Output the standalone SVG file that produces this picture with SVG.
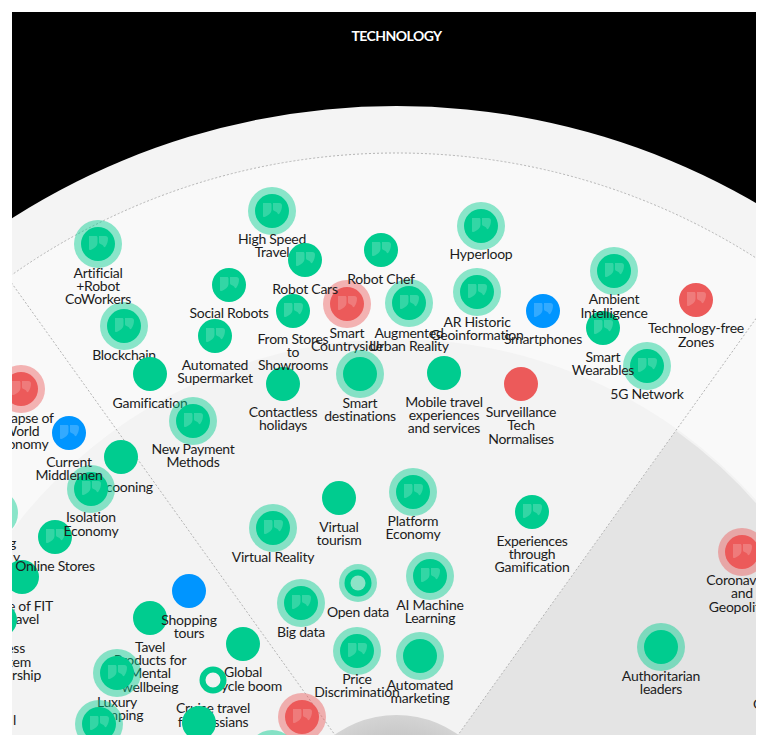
<svg xmlns="http://www.w3.org/2000/svg" xmlns:xlink="http://www.w3.org/1999/xlink" width="770" height="735" viewBox="0 0 770 735">
<style>
text{font-family:Lato,"Liberation Sans",sans-serif;font-size:14px;fill:#1c1c1c;text-anchor:middle;letter-spacing:-.25px}
.t{font-weight:700;fill:#fff;font-size:14px;letter-spacing:-.55px}
.e{text-anchor:end}
.s{text-anchor:start}
.g{fill:#00cc8f}.gh{fill:#00cc8f;opacity:.45}
.r{fill:#ec5a5a}.rh{fill:#ec5a5a;opacity:.45}
.b{fill:#0095ff}
.q{fill:#fff;opacity:.2}
.d{fill:none;stroke:#b4b4b4;stroke-width:1;stroke-dasharray:2 2}
</style>
<defs>
<g id="q"><path class="q" d="M-9-8h7c1 0 1.500.7 1.500 1.700v5c0 3.500-3.500 6-7 7.300-1 .3-1.500-.2-1.500-1.500zM1-8h6.500c1.500 0 2.500 1 2.500 2.500 0 3-1 6-2.500 8-.7 1-1.500 1-2-.3-.5-1-1.500-1.700-3-2.200-1-.4-1.500-1-1.500-2v-6z"/></g>
<radialGradient id="core" gradientUnits="userSpaceOnUse" cx="396.500" cy="821" r="106"><stop offset="0" stop-color="#9a9a9a"/><stop offset="1" stop-color="#d4d4d4"/></radialGradient>
</defs>
<rect width="770" height="735" fill="#fff"/>
<rect x="12" y="12" width="744" height="723" fill="#000"/>
<g id="bands">
<circle cx="396.500" cy="821" r="715" fill="#f4f4f4"/>
<circle cx="396.500" cy="821" r="668" fill="#f9f9f9"/>
<circle cx="396.500" cy="821" r="482" fill="#f3f3f3"/>
<path d="M396.500 821L676 430.800A480 480 0 0 1 876.500 821z" fill="#e4e4e4"/>
<circle cx="396.500" cy="821" r="106" fill="url(#core)"/>
<circle class="d" cx="396.500" cy="821" r="668"/>
<path class="d" d="M396.500 821L785 278M396.500 821L8 278"/>
</g>
<text class="t" x="396.500" y="41">TECHNOLOGY</text>

<g id="n-social"><circle class="g" cx="229" cy="285" r="17"/><use href="#q" x="229" y="285"/><text x="229" y="318">Social Robots</text></g>
<g id="n-highspeed"><circle class="gh" cx="272" cy="211" r="24"/><circle class="g" cx="272" cy="211" r="17"/><use href="#q" x="272" y="211"/><text x="272" y="244">High Speed<tspan x="272" dy="13">Travel</tspan></text></g>
<g id="n-robotcars"><circle class="g" cx="305" cy="260" r="17"/><use href="#q" x="305" y="260"/></g>
<g id="n-countryside"><circle class="rh" cx="347" cy="304" r="24"/><circle class="r" cx="347" cy="304" r="17"/><use href="#q" x="347" y="304"/><text x="347" y="338">Smart<tspan x="347" dy="13">Countryside</tspan></text></g>
<g id="n-robotcars-label"><text x="305" y="294">Robot Cars</text></g>
<g id="n-artificial"><circle class="gh" cx="98" cy="244" r="24"/><circle class="g" cx="98" cy="244" r="17"/><use href="#q" x="98" y="244"/></g>
<g id="n-blockchain"><circle class="gh" cx="124" cy="326" r="24"/><circle class="g" cx="124" cy="326" r="17"/><use href="#q" x="124" y="326"/><text x="124" y="360">Blockchain</text></g>
<g id="n-artificial-label"><text x="98" y="278">Artificial<tspan x="98" dy="13">+Robot</tspan><tspan x="98" dy="13">CoWorkers</tspan></text></g>
<g id="n-fromstores"><circle class="g" cx="293" cy="311" r="17"/><use href="#q" x="293" y="311"/></g>
<g id="n-supermarket"><circle class="g" cx="215" cy="336" r="17"/><use href="#q" x="215" y="336"/><text x="215" y="370">Automated<tspan x="215" dy="13">Supermarket</tspan></text></g>
<g id="n-gamification"><circle class="g" cx="150" cy="374" r="17"/><text x="150" y="408">Gamification</text></g>
<g id="n-contactless"><circle class="g" cx="283" cy="384" r="17"/><text x="283" y="417">Contactless<tspan x="283" dy="13">holidays</tspan></text></g>
<g id="n-fromstores-label"><text x="293" y="344">From Stores<tspan x="293" dy="13">to</tspan><tspan x="293" dy="13">Showrooms</tspan></text></g>
<g id="n-destinations"><circle class="gh" cx="360" cy="374" r="24"/><circle class="g" cx="360" cy="374" r="17"/><text x="360" y="408">Smart<tspan x="360" dy="13">destinations</tspan></text></g>
<g id="n-payment"><circle class="gh" cx="193" cy="421" r="24"/><circle class="g" cx="193" cy="421" r="17"/><use href="#q" x="193" y="421"/><text x="193" y="454">New Payment<tspan x="193" dy="13">Methods</tspan></text></g>
<g id="n-hyperloop"><circle class="gh" cx="481" cy="226" r="24"/><circle class="g" cx="481" cy="226" r="17"/><use href="#q" x="481" y="226"/><text x="481" y="259">Hyperloop</text></g>
<g id="n-augmented"><circle class="gh" cx="409" cy="303" r="24"/><circle class="g" cx="409" cy="303" r="17"/><use href="#q" x="409" y="303"/><text x="409" y="338">Augmented<tspan x="409" dy="13">Urban Reality</tspan></text></g>
<g id="n-robotchef"><circle class="g" cx="381" cy="250" r="17"/><use href="#q" x="381" y="250"/><text x="381" y="284">Robot Chef</text></g>
<g id="n-arhistoric"><circle class="gh" cx="477" cy="292" r="24"/><circle class="g" cx="477" cy="292" r="17"/><use href="#q" x="477" y="292"/><text x="477" y="327">AR Historic<tspan x="477" dy="13">Geoinformation</tspan></text></g>
<g id="n-smartphones"><circle class="b" cx="543" cy="311" r="17"/><use href="#q" x="543" y="311"/><text x="543" y="344">Smartphones</text></g>
<g id="n-ambient"><circle class="gh" cx="614" cy="271" r="24"/><circle class="g" cx="614" cy="271" r="17"/><use href="#q" x="614" y="271"/></g>
<g id="n-wearables"><circle class="g" cx="603" cy="328" r="17"/><use href="#q" x="603" y="328"/></g>
<g id="n-ambient-label"><text x="614" y="304">Ambient<tspan x="614" dy="13.500">Intelligence</tspan></text></g>
<g id="n-techfree"><circle class="r" cx="696" cy="300" r="17"/><use href="#q" x="696" y="300"/><text x="696" y="333">Technology-free<tspan x="696" dy="13.500">Zones</tspan></text></g>
<g id="n-5g"><circle class="gh" cx="647" cy="366" r="24"/><circle class="g" cx="647" cy="366" r="17"/><use href="#q" x="647" y="366"/><text x="647" y="399">5G Network</text></g>
<g id="n-wearables-label"><text x="603" y="362">Smart<tspan x="603" dy="13">Wearables</tspan></text></g>
<g id="n-mobile"><circle class="g" cx="444" cy="373" r="17"/><text x="444" y="407">Mobile travel<tspan x="444" dy="13">experiences</tspan><tspan x="444" dy="13">and services</tspan></text></g>
<g id="n-surveillance"><circle class="r" cx="521" cy="384" r="17"/><text x="521" y="417">Surveillance<tspan x="521" dy="13">Tech</tspan><tspan x="521" dy="13.500">Normalises</tspan></text></g>
<g id="n-collapse"><circle class="rh" cx="21" cy="389" r="24"/><circle class="r" cx="21" cy="389" r="17"/><use href="#q" x="21" y="389"/><text x="21" y="423">Collapse of<tspan x="21" dy="13">World</tspan><tspan x="21" dy="13">Economy</tspan></text></g>
<g id="n-cut-1"><circle class="gh" cx="-6" cy="513" r="24"/><circle class="g" cx="-6" cy="513" r="17"/><text class="e" x="16" y="548">g</text><text class="e" x="20" y="562">y</text></g>
<g id="n-cut-2"><circle class="g" cx="22" cy="577" r="17"/><text class="e" x="53" y="611">e of FIT</text><text class="e" x="39" y="624">avel</text></g>
<g id="n-cut-3"><circle class="g" cx="0" cy="620" r="17"/><text class="e" x="25" y="653">ess</text><text class="e" x="31" y="667">tem</text><text class="e" x="41" y="680">rship</text></g>
<text class="e" x="16" y="725">l</text>
<g id="n-online"><circle class="g" cx="55" cy="537" r="17"/><use href="#q" x="55" y="537"/><text x="55" y="571">Online Stores</text></g>
<g id="n-cocooning"><circle class="g" cx="121" cy="457" r="17"/><text x="121" y="492">Cocooning</text></g>
<g id="n-isolation"><circle class="gh" cx="91" cy="489" r="24"/><circle class="g" cx="91" cy="489" r="17"/><use href="#q" x="91" y="489"/><text x="91" y="522">Isolation<tspan x="91" dy="13.500">Economy</tspan></text></g>
<g id="n-middlemen"><circle class="b" cx="69" cy="433" r="17"/><use href="#q" x="69" y="433"/><text x="69" y="467">Current<tspan x="69" dy="13">Middlemen</tspan></text></g>
<g id="n-tavel"><circle class="g" cx="150" cy="618" r="17"/><text x="150" y="652">Tavel<tspan x="150" dy="13">Products for</tspan><tspan x="150" dy="13">Mental</tspan><tspan x="150" dy="14">wellbeing</tspan></text></g>
<g id="n-shopping"><circle class="b" cx="189" cy="591" r="17"/><text x="189" y="625">Shopping<tspan x="189" dy="13">tours</tspan></text></g>
<g id="n-luxury"><circle class="gh" cx="117" cy="673" r="24"/><circle class="g" cx="117" cy="673" r="17"/><use href="#q" x="117" y="673"/><text x="117" y="707">Luxury<tspan x="117" dy="13">Camping</tspan></text></g>
<g id="n-lower"><circle class="gh" cx="99" cy="724" r="24"/><circle class="g" cx="99" cy="724" r="17"/><use href="#q" x="99" y="724"/></g>
<g id="n-global"><circle class="g" cx="243" cy="644" r="17"/><text x="243" y="677">Global<tspan x="243" dy="14">bicycle boom</tspan></text></g>
<g id="n-ring"><circle cx="213" cy="680" r="10.500" fill="#f3f3f3" stroke="#00cc8f" stroke-width="6"/></g>
<g id="n-cruise"><text x="213" y="713">Cruise travel<tspan x="213" dy="13.500">for Russians</tspan></text><circle class="g" cx="199" cy="723" r="17"/></g>
<g id="n-vr"><circle class="gh" cx="273" cy="528" r="24"/><circle class="g" cx="273" cy="528" r="17"/><use href="#q" x="273" y="528"/><text x="273" y="562">Virtual Reality</text></g>
<g id="n-tourism"><circle class="g" cx="339" cy="498" r="17"/><text x="339" y="532">Virtual<tspan x="339" dy="13">tourism</tspan></text></g>
<g id="n-opendata"><circle class="gh" cx="358" cy="583" r="19"/><circle class="g" cx="358" cy="583" r="13.500"/><circle cx="358" cy="583" r="7.500" fill="#8ce3c7"/><text x="358" y="617">Open data</text></g>
<g id="n-bigdata"><circle class="gh" cx="301" cy="603" r="24"/><circle class="g" cx="301" cy="603" r="17"/><use href="#q" x="301" y="603"/><text x="301" y="637">Big data</text></g>
<g id="n-redlow"><circle class="rh" cx="302" cy="717" r="24"/><circle class="r" cx="302" cy="717" r="17"/><use href="#q" x="302" y="717"/></g>
<g id="n-mintlow"><circle class="gh" cx="272" cy="754" r="24"/></g>
<g id="n-price"><circle class="gh" cx="357" cy="651" r="24"/><circle class="g" cx="357" cy="651" r="17"/><use href="#q" x="357" y="651"/><text x="357" y="684">Price<tspan x="357" dy="13">Discrimination</tspan></text></g>
<g id="n-automated"><circle class="gh" cx="420" cy="656" r="24"/><circle class="g" cx="420" cy="656" r="17"/><text x="420" y="690">Automated<tspan x="420" dy="13">marketing</tspan></text></g>
<g id="n-platform"><circle class="gh" cx="413" cy="492" r="24"/><circle class="g" cx="413" cy="492" r="17"/><use href="#q" x="413" y="492"/><text x="413" y="526">Platform<tspan x="413" dy="13">Economy</tspan></text></g>
<g id="n-aiml"><circle class="gh" cx="430" cy="576" r="24"/><circle class="g" cx="430" cy="576" r="17"/><use href="#q" x="430" y="576"/><text x="430" y="610">AI Machine<tspan x="430" dy="13">Learning</tspan></text></g>
<g id="n-experiences"><circle class="g" cx="532" cy="512" r="17"/><use href="#q" x="532" y="512"/><text x="532" y="546">Experiences<tspan x="532" dy="13">through</tspan><tspan x="532" dy="13">Gamification</tspan></text></g>
<g id="n-coronavirus"><circle class="rh" cx="742" cy="552" r="24"/><circle class="r" cx="742" cy="552" r="17"/><use href="#q" x="742" y="552"/><text x="742" y="585">Coronavirus<tspan x="742" dy="13">and</tspan><tspan x="742" dy="14">Geopolitics</tspan></text></g>
<g id="n-authoritarian"><circle class="gh" cx="661" cy="647" r="24"/><circle class="g" cx="661" cy="647" r="17"/><text x="661" y="681">Authoritarian<tspan x="661" dy="13">leaders</tspan></text></g>
<text class="s" x="753" y="709">C</text>
<path id="frame" fill="#fff" fill-rule="evenodd" d="M0 0H770V735H0zM12 12V735H756V12z"/>
</svg>
